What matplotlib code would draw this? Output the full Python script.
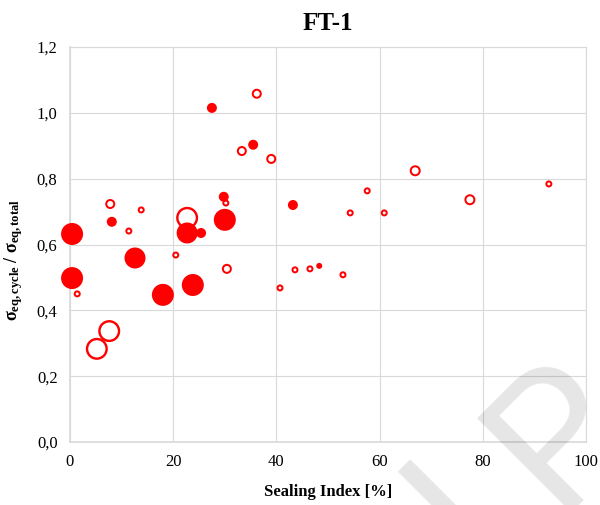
import matplotlib
matplotlib.use("Agg")
import matplotlib.pyplot as plt
import numpy as np

# filled bubbles
full_x = [0.4, 0.4, 8.1, 12.6, 18.0, 22.7, 23.8, 25.4, 27.5, 29.8, 30.0, 35.5, 43.2, 48.3]
full_y = [0.632, 0.498, 0.669, 0.559, 0.447, 0.635, 0.477, 0.635, 1.015, 0.745, 0.675, 0.903, 0.720, 0.535]
full_d = [22, 22, 10, 21, 22, 21, 22, 10, 10, 10, 22, 10, 10, 6]

# open bubbles
open_x = [5.2, 7.6, 7.8, 1.4, 11.4, 13.8, 20.5, 22.7, 30.2, 30.4, 33.3, 36.2, 39.0,
          40.7, 43.6, 46.5, 52.9, 54.3, 57.6, 60.9, 66.9, 77.5, 92.8]
open_y = [0.283, 0.337, 0.723, 0.450, 0.641, 0.705, 0.568, 0.681, 0.726, 0.526, 0.884, 1.058, 0.860,
          0.468, 0.523, 0.526, 0.508, 0.696, 0.763, 0.696, 0.824, 0.736, 0.784]
open_d = [22, 22, 10, 7, 7, 7, 7, 22, 7, 10, 10, 10, 10,
          7, 7, 7, 7, 7, 7, 7, 11, 11, 7]

x_ticks = [0, 20, 40, 60, 80, 100]
y_ticks = [0.0, 0.2, 0.4, 0.6, 0.8, 1.0, 1.2]

plt.rcParams['font.family'] = 'Liberation Serif'
plt.rcParams['mathtext.fontset'] = 'custom'
plt.rcParams['mathtext.rm'] = 'Liberation Serif'
plt.rcParams['mathtext.bf'] = 'Liberation Serif:bold'
plt.rcParams['mathtext.it'] = 'Liberation Serif:italic'

px = 0.72  # points per pixel at dpi 100
grid_c = '#d9d9d9'

fig = plt.figure(figsize=(6.0, 5.05), dpi=100)
ax = fig.add_axes([70 / 600, 63 / 505, 516 / 600, 395 / 505])

# open markers: outer diameter includes the ring
ring = np.where(np.array(open_d) > 15, 2.4, 2.0)
s_open = ((np.array(open_d) - ring) * px) ** 2
ax.scatter(open_x, open_y, s=s_open, facecolors='none', edgecolors='#ff0000',
           linewidths=ring * px, zorder=3, clip_on=False)
ax.scatter(full_x, full_y, s=(np.array(full_d) * px) ** 2, color='#ff0000',
           linewidths=0, zorder=4, clip_on=False)

ax.set_xlim(0, 100)
ax.set_ylim(0, 1.2)
ax.set_xticks(x_ticks)
ax.set_yticks(y_ticks)
ax.set_xticklabels([str(v) for v in x_ticks])
ax.set_yticklabels([f"{v:.1f}".replace('.', ',') for v in y_ticks])
ax.tick_params(length=0, labelsize=12, colors='black')
ax.tick_params(axis='y', pad=9)
ax.tick_params(axis='x', pad=9)
ax.grid(True, color=grid_c, linewidth=0.8)
ax.set_axisbelow(True)
for side, sp in ax.spines.items():
    sp.set_color(grid_c)
    sp.set_linewidth(1.2 if side in ('left', 'bottom') else 0.8)

ax.set_title('FT-1', fontsize=18, fontweight='bold', pad=12)
ax.set_xlabel('Sealing Index [%]', fontsize=12, fontweight='bold', labelpad=10)
ax.set_ylabel(r'$\mathbf{σ_{eq,cycle}\ /\ σ_{eq,total}}$', fontsize=13)
ax.yaxis.set_label_coords(-0.087, 0.46)

# faint diagonal stamp in the lower right corner
stamp = dict(rotation=45, rotation_mode='anchor', ha='left', va='baseline',
             fontsize=135, family='Roboto', fontweight='normal',
             color='black', alpha=0.1, zorder=10)
fig.text(556 / 600, -8 / 505, 'P', **stamp)
fig.text(475 / 600, -61 / 505, 'I', **stamp)

fig.savefig('out.png', dpi=100)
